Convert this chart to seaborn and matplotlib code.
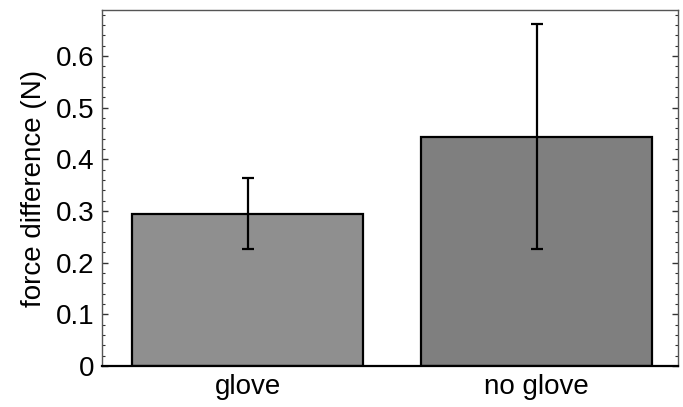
import numpy as np
import pandas as pd
import matplotlib
matplotlib.use("Agg")
import matplotlib.pyplot as plt
import seaborn as sns
from matplotlib.ticker import MultipleLocator

# ----------------------------
# Data
# ----------------------------
conditions = ["glove", "no glove"]
mean_force = [0.295, 0.443]
err_low = [0.227, 0.227]
err_high = [0.363, 0.661]
bar_colors = ["#8f8f8f", "#7f7f7f"]

df = pd.DataFrame({"condition": conditions, "force": mean_force})

# ----------------------------
# Plot
# ----------------------------
sns.set_style("white")
plt.rcParams['font.family'] = ['Liberation Sans', 'DejaVu Sans']
plt.rcParams['text.color'] = 'black'
plt.rcParams['axes.labelcolor'] = 'black'
plt.rcParams['xtick.color'] = 'black'
plt.rcParams['ytick.color'] = 'black'

fig = plt.figure(figsize=(6.83, 4.07), dpi=100)
ax = fig.add_axes([0.150, 0.1007, 0.8427, 0.8747])

sns.barplot(data=df, x="condition", y="force", hue="condition",
            palette=bar_colors, errorbar=None, width=0.8,
            edgecolor="black", linewidth=1.6, legend=False, ax=ax)

# asymmetric error bars around the means
lower = np.array(mean_force) - np.array(err_low)
upper = np.array(err_high) - np.array(mean_force)
ax.errorbar(np.arange(len(conditions)), mean_force, yerr=[lower, upper],
            fmt="none", ecolor="black", elinewidth=1.6, capsize=4.5,
            capthick=1.6, zorder=5)

ax.set_xlim(-0.503, 1.49)
ax.set_ylim(0, 0.689)
ax.yaxis.set_major_locator(MultipleLocator(0.1))
ax.yaxis.set_minor_locator(MultipleLocator(0.02))
ax.set_yticks(np.arange(0, 0.61, 0.1))
ax.set_yticklabels(["0", "0.1", "0.2", "0.3", "0.4", "0.5", "0.6"])

ax.set_xlabel("")
ax.set_ylabel("force difference (N)", fontsize=20, labelpad=6, color="black")
ax.tick_params(axis="y", which="major", direction="in", length=4, width=1,
               color="#333333", labelcolor="black", labelsize=20,
               left=True, right=True, pad=6)
ax.tick_params(axis="y", which="minor", direction="in", length=2.5, width=0.8,
               color="#333333", left=True, right=True)
ax.tick_params(axis="x", length=0, labelsize=20, labelcolor="black", pad=6)

for side in ["left", "right", "top"]:
    ax.spines[side].set_color("#555555")
    ax.spines[side].set_linewidth(1)
ax.spines["bottom"].set_color("black")
ax.spines["bottom"].set_linewidth(1.6)

fig.savefig("out.png", dpi=100)
plt.close(fig)
